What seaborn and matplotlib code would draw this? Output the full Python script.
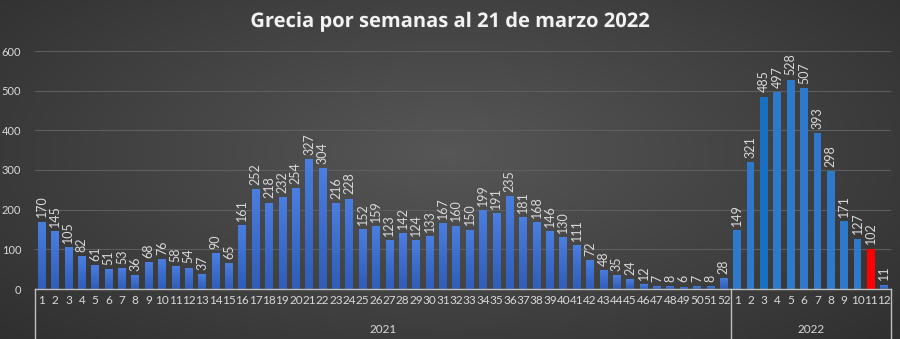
import numpy as np
import pandas as pd
import matplotlib
matplotlib.use("Agg")
import matplotlib.pyplot as plt
import matplotlib.patheffects as pe
from matplotlib.colors import LinearSegmentedColormap
import seaborn as sns

# Weekly counts
weeks_2021 = list(range(1, 53))
values_2021 = [170, 145, 105, 82, 61, 51, 53, 36, 68, 76,
               58, 54, 37, 90, 65, 161, 252, 218, 232, 254,
               327, 304, 216, 228, 152, 159, 123, 142, 124, 133,
               167, 160, 150, 199, 191, 235, 181, 168, 146, 130,
               111, 72, 48, 35, 24, 12, 7, 8, 6, 7,
               8, 28]
weeks_2022 = list(range(1, 13))
values_2022 = [149, 321, 485, 497, 528, 507, 393, 298, 171, 127, 102, 11]
years = ["2021", "2022"]
title = "Grecia por semanas al 21 de marzo 2022"
y_ticks = [0, 100, 200, 300, 400, 500, 600]

# Colour group per bar
groups_2021 = ["g21"] * 52
groups_2022 = ["g22", "g22", "g22d", "g22", "g22", "g22", "g22",
               "g22", "g22", "g22", "red", "g21"]
palette = {"g21": "#3f6fd0", "g22": "#2e79cc", "g22d": "#1770c4", "red": "#ff0000"}

df = pd.DataFrame({
    "pos": list(range(len(values_2021) + len(values_2022))),
    "week": weeks_2021 + weeks_2022,
    "value": values_2021 + values_2022,
    "group": groups_2021 + groups_2022,
})
n = len(df)

W, H = 900, 339
fig = plt.figure(figsize=(W / 100, H / 100), dpi=100)

# Dark radial-gradient background
bg = fig.add_axes([0, 0, 1, 1], zorder=-10)
yy, xx = np.mgrid[0:1:200j, 0:1:500j]
r = np.sqrt(((xx - 0.5) / 0.75) ** 2 + ((yy - 0.45) / 0.9) ** 2)
shade = np.clip(0.34 - 0.17 * r, 0.15, 0.34)
bg.imshow(np.dstack([shade, shade, shade]), aspect="auto", extent=[0, 1, 0, 1],
          interpolation="bicubic")
bg.set_axis_off()

left, right = 35 / W, 891 / W
bottom, top = 1 - 289 / H, 1 - 51 / H
ax = fig.add_axes([left, bottom, right - left, top - bottom])
ax.set_facecolor("none")

sns.barplot(data=df, x="pos", y="value", hue="group", palette=palette,
            dodge=False, width=0.58, legend=False, ax=ax, zorder=3,
            saturation=1, order=df["pos"].tolist())

# Map each drawn bar back to its row by its centre position
bars = {}
for patch in ax.patches:
    if patch.get_height() > 0:
        bars[int(round(patch.get_x() + patch.get_width() / 2))] = patch

# Soft vertical gradient on the 2021-style bars
grad_cmap = LinearSegmentedColormap.from_list("bar", ["#2f5db8", "#4a7ee0"])
for pos, grp, v in zip(df["pos"], df["group"], df["value"]):
    patch = bars[pos]
    x0, w = patch.get_x(), patch.get_width()
    if grp == "g21":
        grad = np.linspace(0, 1, 64).reshape(-1, 1)
        im = ax.imshow(grad, cmap=grad_cmap, origin="lower", aspect="auto",
                       extent=[x0, x0 + w, 0, v], zorder=3.5)
        im.set_clip_path(patch)
    # Value label above the bar
    ax.annotate(str(v), (x0 + w / 2, v), xytext=(0, 3), textcoords="offset points",
                rotation=90, ha="center", va="bottom", fontsize=9,
                color="#d9d9d9", family="Lato", zorder=5)

ax.set_xlim(-0.5, n - 0.5)
ax.set_ylim(0, 600)
ax.set_yticks(y_ticks)
ax.set_yticklabels([str(t) for t in y_ticks], fontsize=8, color="#d9d9d9", family="Lato")
ax.set_xticks(df["pos"])
ax.set_xticklabels([str(w) for w in df["week"]], fontsize=8.5, color="#d9d9d9", family="Lato")
ax.tick_params(axis="both", length=0, pad=4)
ax.tick_params(axis="y", pad=10)
ax.set_xlabel("")
ax.set_ylabel("")
ax.grid(axis="y", color="#5e5e5e", linewidth=0.8, zorder=0)
ax.grid(axis="x", visible=False)
for s in ["top", "right", "left"]:
    ax.spines[s].set_visible(False)
ax.spines["bottom"].set_color("#bfbfbf")
ax.spines["bottom"].set_linewidth(1.0)
ax.spines["bottom"].set_zorder(6)

# Year group separators and labels below the axis
trans = ax.get_xaxis_transform()
for xb in [-0.5, 51.5, n - 0.5]:
    ax.plot([xb, xb], [0, -0.215], transform=trans, color="#bfbfbf",
            linewidth=1.0, clip_on=False, zorder=6)
ax.text(25.5, -0.172, years[0], transform=trans, ha="center", va="center",
        fontsize=8.5, color="#d9d9d9", family="Lato")
ax.text(57.5, -0.172, years[1], transform=trans, ha="center", va="center",
        fontsize=8.5, color="#d9d9d9", family="Lato")

fig.text(0.5, 1 - 22 / H, title, ha="center", va="center", fontsize=14.5,
         fontweight="bold", color="#f2f2f2", family="Open Sans",
         path_effects=[pe.withSimplePatchShadow(offset=(1, -1), alpha=0.6)])

fig.savefig("out.png", dpi=100)
